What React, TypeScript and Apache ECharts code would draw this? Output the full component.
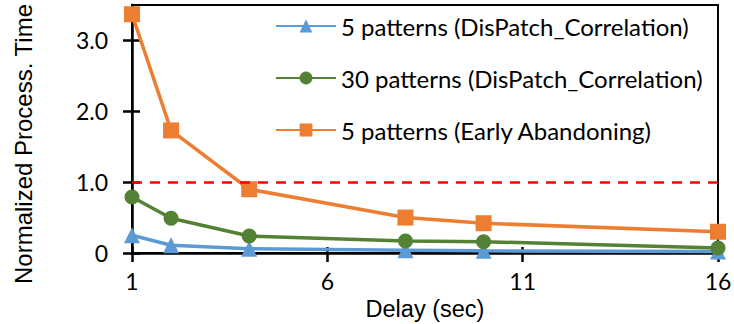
import React, { useEffect, useRef } from "react";
import * as echarts from "echarts";

const delays = [1, 2, 4, 8, 10, 16];
const fivePatternsDisPatch = [0.25, 0.11, 0.06, 0.04, 0.03, 0.02];
const thirtyPatternsDisPatch = [0.79, 0.49, 0.24, 0.17, 0.16, 0.07];
const fivePatternsEarly = [3.37, 1.73, 0.9, 0.5, 0.42, 0.3];
const seriesNames = [
  "5 patterns (DisPatch_Correlation)",
  "30 patterns (DisPatch_Correlation)",
  "5 patterns (Early Abandoning)",
];
const xTicks = [1, 6, 11, 16];
const yTicks = [0, 1, 2, 3];
const baseline = 1.0;
const xName = "Delay (sec)";
const yName = "Normalized Process. Time";

const pairs = (ys: number[]) => delays.map((x, i) => [x, ys[i]]);

export default function App() {
  const ref = useRef<HTMLDivElement>(null);
  useEffect(() => {
    const chart = echarts.init(ref.current!, null, { renderer: "svg" });
    const tickFont = { fontFamily: "Lato", fontSize: 23, color: "#000" };
    const nameFont = { fontFamily: "Liberation Sans", fontSize: 23.5, color: "#000" };
    chart.setOption({
      animation: false,
      grid: {
        left: 132,
        top: 5,
        right: 16,
        bottom: 71,
        outerBoundsMode: "none",
        containLabel: false,
        show: true,
        borderColor: "#000",
        borderWidth: 2,
        backgroundColor: "transparent",
      },
      legend: {
        orient: "vertical",
        left: 270,
        top: 9,
        itemWidth: 60,
        itemHeight: 16,
        itemGap: 28,
        textStyle: { fontFamily: "Lato", fontSize: 24, color: "#000" },
        data: seriesNames,
      },
      graphic: [
        {
          type: "text",
          x: 23,
          y: 144,
          rotation: Math.PI / 2,
          style: {
            text: yName,
            fontFamily: "Liberation Sans",
            fontSize: 24,
            fill: "#000",
            align: "center",
            verticalAlign: "middle",
          },
        },
      ],
      xAxis: [
        {
          type: "value",
          min: 1,
          max: 16,
          name: xName,
          nameLocation: "middle",
          nameGap: 41,
          nameTextStyle: nameFont,
          axisLine: { show: true, lineStyle: { color: "#000", width: 2.5 } },
          axisTick: {
            show: true,
            length: 9,
            customValues: xTicks,
            lineStyle: { color: "#000", width: 2.5 },
          },
          axisLabel: { ...tickFont, margin: 16, customValues: xTicks },
          splitLine: { show: false },
        },
        {
          type: "value",
          position: "top",
          offset: -248,
          min: 1,
          max: 16,
          axisLine: { show: false },
          axisTick: {
            show: true,
            length: 6,
            customValues: xTicks,
            lineStyle: { color: "#000", width: 2.5 },
          },
          axisLabel: { show: false },
          splitLine: { show: false },
        },
      ],
      yAxis: [
        {
          type: "value",
          min: 0,
          max: 3.5,
          axisLine: { show: true, lineStyle: { color: "#000", width: 2.5 } },
          axisTick: {
            show: true,
            length: 9,
            customValues: yTicks,
            lineStyle: { color: "#000", width: 2.5 },
          },
          axisLabel: {
            ...tickFont,
            margin: 24,
            customValues: yTicks,
            formatter: (v: number) => (v === 0 ? "0" : v.toFixed(1)),
          },
          splitLine: { show: false },
        },
        {
          type: "value",
          position: "right",
          offset: -586,
          min: 0,
          max: 3.5,
          axisLine: { show: false },
          axisTick: {
            show: true,
            length: 8,
            customValues: yTicks,
            lineStyle: { color: "#000", width: 2.5 },
          },
          axisLabel: { show: false },
          splitLine: { show: false },
        },
      ],
      series: [
        {
          name: seriesNames[0],
          type: "line",
          data: pairs(fivePatternsDisPatch),
          symbol: "triangle",
          symbolSize: 16,
          color: "#5B9BD5",
          lineStyle: { width: 3.5 },
          markLine: {
            silent: true,
            symbol: "none",
            label: { show: false },
            lineStyle: { color: "#FF0000", width: 2.5, type: [10, 8] },
            data: [{ yAxis: baseline }],
          },
        },
        {
          name: seriesNames[1],
          type: "line",
          data: pairs(thirtyPatternsDisPatch),
          symbol: "circle",
          symbolSize: 15,
          color: "#548235",
          lineStyle: { width: 3.5 },
        },
        {
          name: seriesNames[2],
          type: "line",
          data: pairs(fivePatternsEarly),
          symbol: "rect",
          symbolSize: 16,
          color: "#ED7D31",
          lineStyle: { width: 3.5 },
        },
      ],
    });
    return () => chart.dispose();
  }, []);
  return <div ref={ref} style={{ width: 734, height: 324, position: "absolute", left: 0, top: 0 }} />;
}
